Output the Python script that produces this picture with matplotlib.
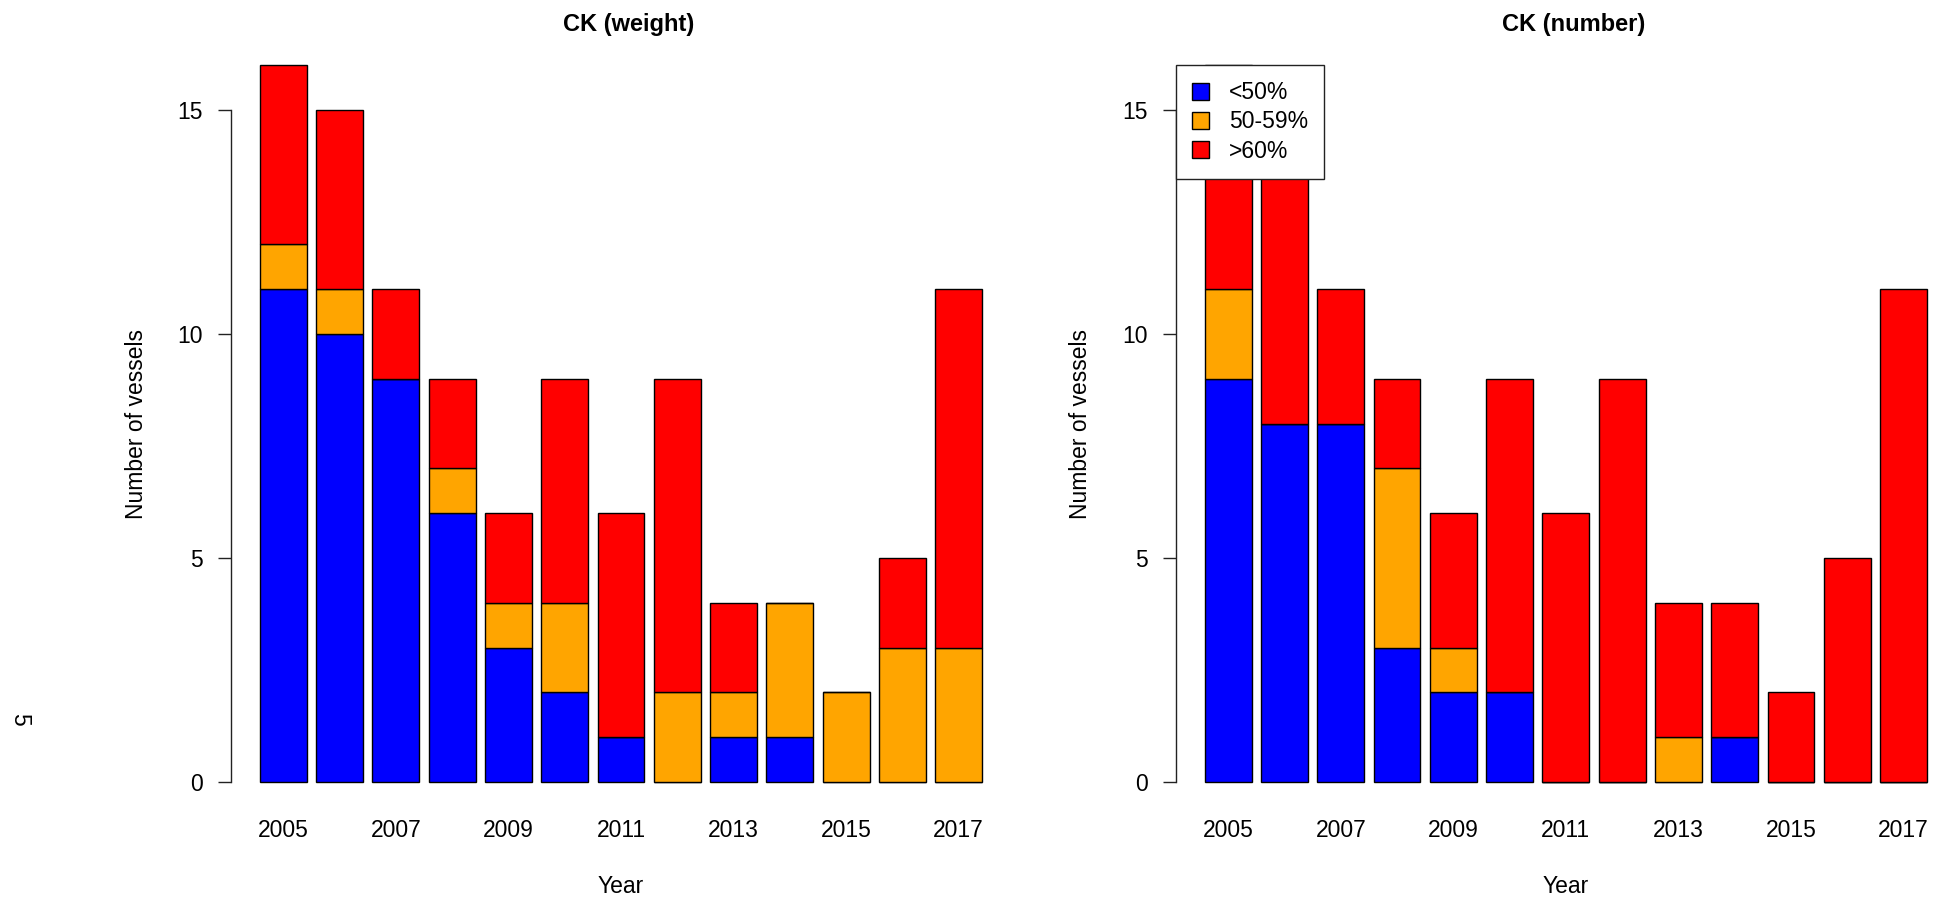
import numpy as np
import matplotlib
matplotlib.use('Agg')
import matplotlib.pyplot as plt
from matplotlib.patches import Patch

plt.rcParams['font.family'] = ['Liberation Sans', 'DejaVu Sans']

# Data
years = list(range(2005, 2018))
categories = ['<50%', '50-59%', '>60%']
colors = ['#0000FF', '#FFA500', '#FF0000']

# CK (weight)
w_low = [11, 10, 9, 6, 3, 2, 1, 0, 1, 1, 0, 0, 0]
w_mid = [1, 1, 0, 1, 1, 2, 0, 2, 1, 3, 2, 3, 3]
w_high = [4, 4, 2, 2, 2, 5, 5, 7, 2, 0, 0, 2, 8]

# CK (number)
n_low = [9, 8, 8, 3, 2, 2, 0, 0, 0, 1, 0, 0, 0]
n_mid = [2, 0, 0, 4, 1, 0, 0, 0, 1, 0, 0, 0, 0]
n_high = [5, 7, 3, 2, 3, 7, 6, 9, 3, 3, 2, 5, 11]

FS = 16.5

def draw_panel(ax, series, title, legend=False):
    x = 0.7 + 1.2 * np.arange(len(years))
    bottom = np.zeros(len(years))
    for vals, col in zip(series, colors):
        vals = np.array(vals, dtype=float)
        ax.bar(x, vals, width=1.0, bottom=bottom, color=col,
               edgecolor='black', linewidth=1.0)
        bottom += vals
    ax.set_xlim(-0.416, 16.216)
    ax.set_ylim(-0.64, 16.64)
    for s in ['top', 'right', 'bottom']:
        ax.spines[s].set_visible(False)
    ax.spines['left'].set_bounds(0, 15)
    ax.spines['left'].set_linewidth(1.0)
    ax.spines['left'].set_color('#222222')
    ax.set_yticks([0, 5, 10, 15])
    ax.tick_params(axis='y', length=9.4, width=1.0, color='#222222',
                   pad=10.8, labelsize=FS)
    ax.set_xticks(x[::2])
    ax.set_xticklabels([str(y) for y in years[::2]])
    ax.tick_params(axis='x', length=0, pad=6, labelsize=FS)
    ax.set_xlabel('Year', fontsize=FS)
    ax.xaxis.label.set_va('center')
    ax.xaxis.set_label_coords(0.5, -0.0973)
    ax.set_ylabel('Number of vessels', fontsize=FS)
    ax.yaxis.label.set_va('center')
    ax.yaxis.set_label_coords(-0.1218, 0.5)
    ax.text(0.51, 1.0149, title, transform=ax.transAxes, ha='center',
            va='center', fontsize=FS + 0.5, fontweight='bold')
    if legend:
        handles = [Patch(facecolor=c, edgecolor='black', linewidth=1.0)
                   for c in colors]
        leg = ax.legend(handles, categories, loc='upper left',
                        bbox_to_anchor=(-0.416, 16), bbox_transform=ax.transData,
                        fontsize=FS, fancybox=False, framealpha=1,
                        edgecolor='#222222', handlelength=0.75,
                        handleheight=0.75, handletextpad=0.87,
                        borderpad=0.7, labelspacing=0.27, borderaxespad=0)
        leg.get_frame().set_linewidth(1.0)
        leg.set_zorder(10)

fig = plt.figure(figsize=(19.43, 9.02), dpi=100)
ax1 = fig.add_axes([0.1189, 0.1012, 0.4014, 0.8583])
ax2 = fig.add_axes([0.6052, 0.1012, 0.4014, 0.8583])

draw_panel(ax1, [w_low, w_mid, w_high], 'CK (weight)')
draw_panel(ax2, [n_low, n_mid, n_high], 'CK (number)', legend=True)

fig.text(0.0103, 0.203, '5', rotation=270, ha='center', va='center',
         fontsize=FS)

fig.savefig('out.png', dpi=100)
